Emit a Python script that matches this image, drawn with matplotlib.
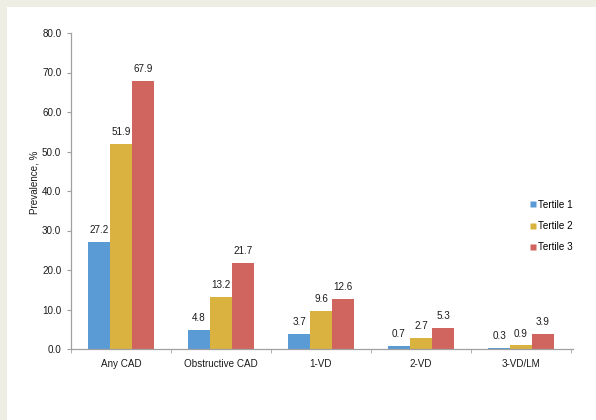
import matplotlib
matplotlib.use("Agg")
import matplotlib.pyplot as plt
import numpy as np
from matplotlib.patches import Rectangle
from matplotlib.lines import Line2D

categories = ["Any CAD", "Obstructive CAD", "1-VD", "2-VD", "3-VD/LM"]
series_names = ["Tertile 1", "Tertile 2", "Tertile 3"]
tertile1 = [27.2, 4.8, 3.7, 0.7, 0.3]
tertile2 = [51.9, 13.2, 9.6, 2.7, 0.9]
tertile3 = [67.9, 21.7, 12.6, 5.3, 3.9]
yticks = [0, 10, 20, 30, 40, 50, 60, 70, 80]

colors = ["#5B9BD5", "#D9B240", "#D0655F"]
fs = 7.1
tc = "#1a1a1a"

plt.rcParams['font.family'] = ['Liberation Sans', 'DejaVu Sans']

fig = plt.figure(figsize=(5.96, 4.2), dpi=100)
fig.patch.set_facecolor("#EEEEE4")
bg = Rectangle((7/596, 0), 1, 1 - 7/420, transform=fig.transFigure,
               facecolor="white", edgecolor="none", zorder=-10)
fig.add_artist(bg)

ax = fig.add_axes([71/596, 1 - 349/420, 502/596, (349 - 33)/420])
ax.set_facecolor("none")
ax.set_zorder(5)

x = np.arange(len(categories))
w = 0.22
data = [tertile1, tertile2, tertile3]
for i, (vals, c) in enumerate(zip(data, colors)):
    pos = x + (i - 1) * w
    ax.bar(pos, vals, width=w, color=c, edgecolor="none", zorder=2)
    for p, v in zip(pos, vals):
        ax.annotate(f"{v:.1f}", (p, v), xytext=(0, 5), textcoords="offset points",
                    ha="center", va="bottom", fontsize=fs, color=tc)

ax.set_xlim(-0.5, len(categories) - 0.5 + 0.02)
ax.set_ylim(0, 80)
ax.set_yticks(yticks)
ax.set_yticklabels([f"{t:.1f}" for t in yticks], fontsize=fs, color=tc)
ax.set_xticks(x)
ax.set_xticklabels(categories, fontsize=fs, color=tc)
ax.tick_params(axis="x", length=0, pad=7)
ax.set_xticks(np.arange(len(categories) + 1) - 0.5, minor=True)
ax.tick_params(axis="x", which="minor", length=3, color="#A0A0A0", direction="out")
ax.tick_params(axis="y", length=3, color="#A0A0A0", pad=4)

for s in ["top", "right"]:
    ax.spines[s].set_visible(False)
for s in ["left", "bottom"]:
    ax.spines[s].set_color("#A0A0A0")
    ax.spines[s].set_linewidth(0.9)

ax.set_ylabel("Prevalence, %", fontsize=fs, color=tc)
ax.yaxis.set_label_coords(-0.062, 0.528)

handles = [Line2D([0], [0], marker="s", linestyle="none", markersize=4,
                  markerfacecolor=c, markeredgecolor="none") for c in colors]
fig.legend(handles, series_names, loc="center left", bbox_to_anchor=(526/596, 1 - 226/420),
           frameon=False, fontsize=fs, handlelength=0.6, handletextpad=0.2,
           labelspacing=1.15, borderaxespad=0)

fig.savefig("out.png", dpi=100, facecolor=fig.get_facecolor())
